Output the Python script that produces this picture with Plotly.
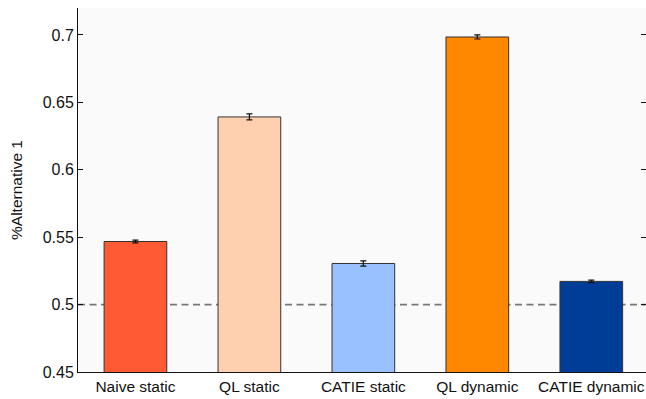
import plotly.graph_objects as go

categories = ["Naive static", "QL static", "CATIE static", "QL dynamic", "CATIE dynamic"]
values = [0.5468, 0.6392, 0.5305, 0.6985, 0.5172]
errors = [0.0010, 0.0022, 0.0020, 0.0015, 0.0009]
colors = ["#FF5A33", "#FFD0B0", "#99C0FF", "#FF8800", "#003D96"]
baseline = 0.5
y_ticks = [0.45, 0.5, 0.55, 0.6, 0.65, 0.7]
y_ticklabels = ["0.45", "0.5", "0.55", "0.6", "0.65", "0.7"]

fig = go.Figure()
fig.add_trace(go.Bar(
    x=list(range(len(categories))), y=values,
    marker=dict(color=colors, line=dict(color="#333333", width=1)),
    width=0.55,
    error_y=dict(type="data", array=errors, color="#111111", thickness=1.2, width=3),
    showlegend=False,
))
fig.add_shape(type="line", xref="paper", yref="y", x0=0, x1=1, y0=baseline, y1=baseline,
              line=dict(color="#777777", width=1.8, dash="7px,4.5px"), layer="below")

fig.update_layout(
    width=646, height=399,
    margin=dict(l=78, r=0, t=8, b=27, autoexpand=False),
    paper_bgcolor="white", plot_bgcolor="#FAFAFA",
    font=dict(family="Liberation Sans, Arial, sans-serif", size=15.5, color="#111111"),
)
fig.update_xaxes(
    range=[-0.504, 4.48],
    tickmode="array", tickvals=list(range(len(categories))), ticktext=categories,
    showline=True, linecolor="#111111", linewidth=1, ticks="", showgrid=False, zeroline=False,
    tickfont=dict(size=15.5),
)
fig.update_yaxes(
    range=[0.45, 0.72],
    tickmode="array", tickvals=y_ticks, ticktext=y_ticklabels,
    showline=True, linecolor="#111111", linewidth=1,
    ticks="inside", ticklen=5, tickcolor="#111111", mirror="ticks",
    showgrid=False, zeroline=False,
    title=dict(text="%Alternative 1", font=dict(size=15.5), standoff=16),
    tickfont=dict(size=16),
)
fig.write_html(
    "out.html",
    config={"displayModeBar": False},
    post_script="document.body.style.margin='0';document.body.style.overflow='hidden';",
)
